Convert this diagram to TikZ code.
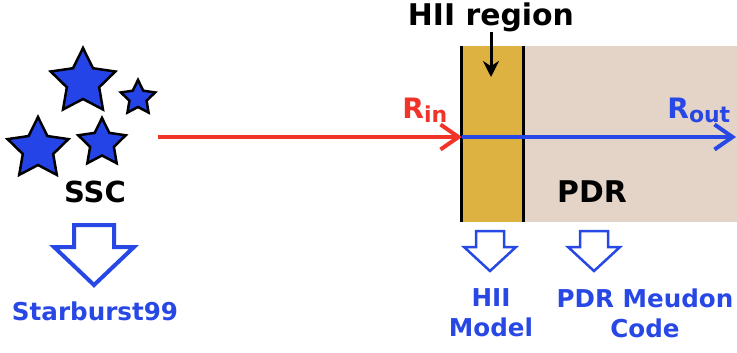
\documentclass[tikz,border=0pt]{standalone}
\usepackage{fontspec}
\setmainfont{DejaVu Sans}
\usepackage{tikz}
\usetikzlibrary{positioning, arrows.meta, shapes.geometric}
\definecolor{starblue}{RGB}{36,68,232}
\definecolor{labelblue}{RGB}{40,72,230}
\definecolor{rayred}{RGB}{240,52,42}
\definecolor{hiigold}{RGB}{222,178,64}
\definecolor{pdrtan}{RGB}{228,212,200}
\tikzset{
  sscstar/.style = {star, star points=5, star point ratio=2.0, draw=black,
                    fill=starblue, line width=0.05cm, inner sep=0pt},
  zonebox/.style = {rectangle, inner sep=0pt, minimum height=3.52cm},
  boldlabel/.style = {font=\bfseries\fontsize{17}{20}\selectfont, inner sep=0pt},
  codelabel/.style = {font=\bfseries\fontsize{14}{17}\selectfont, text=labelblue,
                      align=center, inner sep=0pt},
  rayarrow/.style = {line width=0.08cm, -{Straight Barb[length=0.36cm, width=0.5cm]}},
  codearrow/.style = {draw=labelblue, fill=white, line join=miter}
}

\begin{document}
\begin{tikzpicture}[x=0.02cm, y=-0.02cm]
\useasboundingbox (0,0) rectangle (737,352);

% star cluster
\node[sscstar, minimum size=1.36cm] (bigstar)   at (83,82)  {};
\node[sscstar, minimum size=0.72cm] (tinystar)  at (138,98) {};
\node[sscstar, minimum size=1.28cm] (leftstar)  at (38,149) {};
\node[sscstar, minimum size=1.0cm]  (midstar)   at (102,143) {};
\node[boldlabel, font=\bfseries\fontsize{16.5}{19}\selectfont] (ssc) at (95,192) {SSC};

% HII layer and PDR slab
\node[zonebox, fill=pdrtan, minimum width=4.28cm] (pdr) at (630,134) {};
\node[zonebox, fill=hiigold, minimum width=1.22cm] (hii) at (492.5,134) {};
\draw[line width=0.06cm] (hii.north west) -- (hii.south west);
\draw[line width=0.06cm] (hii.north east) -- (hii.south east);

% rays
\coordinate (rstart) at (158,137);
\coordinate (rin)    at (462,137);
\coordinate (rend)   at (736,137);
\draw[rayarrow, rayred] (rstart) -- (rin);
\draw[rayarrow, labelblue] (rin) -- (rend);
\node[font=\bfseries\fontsize{16}{18}\selectfont, text=rayred, inner sep=0pt, anchor=base west]
  (rinlabel) at (402,118) {R\raisebox{-0.3ex}{\fontsize{12.5}{14}\selectfont in}};
\node[font=\bfseries\fontsize{16}{18}\selectfont, text=labelblue, inner sep=0pt, anchor=base west]
  (routlabel) at (667,118) {R\raisebox{-0.3ex}{\fontsize{12.5}{14}\selectfont out}};

\node[boldlabel] (hiilabel) at (491,17) {HII region};
\coordinate (hiitip) at (491,77);
\draw[line width=0.06cm, -{Stealth[length=0.32cm, width=0.32cm]}] (hiilabel.south) -- (hiitip);
\node[boldlabel] (pdrlabel) at (592,192) {PDR};

% codes
\coordinate (sbtop)  at (94,225);
\coordinate (hiitop) at (490,231);
\coordinate (pdrtop) at (594,231);
\draw[codearrow, line width=0.08cm] (sbtop) ++(-20,0) -- ++(40,0) -- ++(0,22) -- ++(20,0)
  -- ++(-40,38) -- ++(-40,-38) -- ++(20,0) -- cycle;
\draw[codearrow, line width=0.05cm] (hiitop) ++(-14,0) -- ++(28,0) -- ++(0,16) -- ++(12,0)
  -- ++(-26,24) -- ++(-26,-24) -- ++(12,0) -- cycle;
\draw[codearrow, line width=0.05cm] (pdrtop) ++(-14,0) -- ++(28,0) -- ++(0,16) -- ++(12,0)
  -- ++(-26,24) -- ++(-26,-24) -- ++(12,0) -- cycle;
\node[codelabel] (sblabel)   at (95,311)  {Starburst99};
\node[codelabel] (hiimodel)  at (491,313) {HII\\Model};
\node[codelabel] (meudon)    at (645,313) {PDR Meudon\\Code};
\end{tikzpicture}
\end{document}
